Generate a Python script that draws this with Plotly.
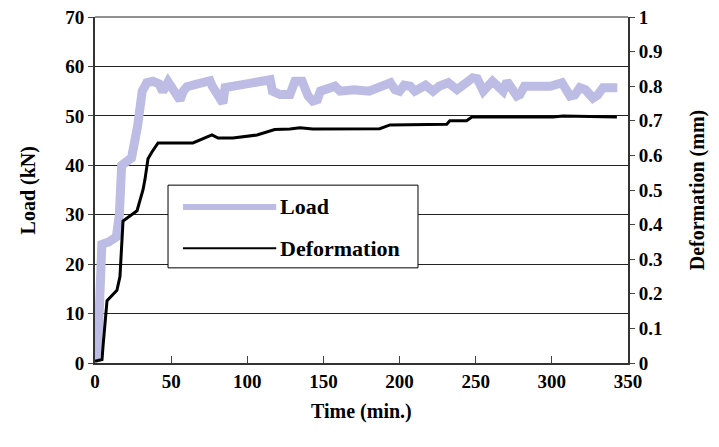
import plotly.graph_objects as go

# Load (kN) vs time (min)
load_t = [0, 1, 2.5, 3.5, 4.5, 9, 14, 16, 17.5, 24, 26, 28, 31, 34, 38, 42, 44.5, 48, 52, 55.8,
          58, 60.4, 68, 75.5, 77, 82, 84, 85.4, 100, 115, 116.5, 121.5, 128, 131.3, 136, 140,
          143, 146, 148, 152, 157.6, 161, 170, 180, 188, 194, 197, 200, 203, 207, 210, 214,
          217, 222, 226, 232, 237.7, 243, 248, 251, 255, 261, 264, 268, 270.5, 274, 277, 279,
          282, 290, 299, 306.6, 309, 312, 315, 318.4, 322, 327, 330, 333.6, 343]
load_kn = [0.5, 2, 8, 20, 24, 24.5, 25.5, 30, 40, 41.5, 44, 48, 55, 56.7, 57, 56.5, 54.9, 56.9, 55, 53.2,
           55, 55.9, 56.5, 57.1, 56, 53, 52.6, 55.7, 56.5, 57.3, 55, 54.3, 54.3, 57, 57, 54,
           53, 53.3, 55, 55.5, 56, 55, 55.3, 55, 56, 56.7, 55.3, 55, 56.2, 56, 55, 56,
           56.2, 55, 56, 56.7, 55.3, 56.5, 57.7, 57.5, 55, 57, 56, 55, 57, 55.5, 54, 54.3,
           56, 56, 56, 56.7, 55.5, 54, 54.2, 55.7, 55.3, 53.6, 54.2, 55.7, 55.7]

# Deformation (mm) vs time (min)
def_t = [0, 4.6, 5.3, 7.9, 14.4, 16.4, 18.4, 27.6, 31.5, 32.8, 34.8, 37.4, 41.4, 64.3, 76.8,
         80.8, 90.6, 106.4, 118, 128, 134.6, 143, 187, 193.7, 231, 233, 244, 247.5, 300.7,
         307.3, 342.7]
def_mm = [0.005, 0.01, 0.05, 0.18, 0.21, 0.25, 0.41, 0.44, 0.50, 0.53, 0.59, 0.61, 0.636, 0.636, 0.659,
          0.65, 0.65, 0.659, 0.675, 0.676, 0.68, 0.676, 0.677, 0.688, 0.69, 0.70, 0.70, 0.711, 0.711,
          0.714, 0.711]

x_ticks = [0, 50, 100, 150, 200, 250, 300, 350]
y1_ticks = [0, 10, 20, 30, 40, 50, 60, 70]
y2_ticks = [0, 0.1, 0.2, 0.3, 0.4, 0.5, 0.6, 0.7, 0.8, 0.9, 1]
y2_labels = ["0", "0.1", "0.2", "0.3", "0.4", "0.5", "0.6", "0.7", "0.8", "0.9", "1"]
series_names = ["Load", "Deformation"]

FONT = "Liberation Serif, Times New Roman, serif"
LOAD_COLOR = "rgb(188,188,228)"
TICK = 19
TITLE = 20

fig = go.Figure()
fig.add_trace(go.Scatter(x=load_t, y=load_kn, name=series_names[0], mode="lines",
                         line=dict(color=LOAD_COLOR, width=9), showlegend=False))
fig.add_trace(go.Scatter(x=def_t, y=def_mm, name=series_names[1], mode="lines", yaxis="y2",
                         line=dict(color="black", width=3), showlegend=False))

# top gridline of plot area (70 kN)
fig.add_shape(type="line", xref="paper", yref="paper", x0=0, x1=1, y0=1, y1=1,
              line=dict(color="#222", width=1), layer="below")

# manual legend (box, samples, labels) in paper coordinates
fig.add_shape(type="rect", xref="paper", yref="paper", x0=0.137, x1=0.606, y0=0.275, y1=0.514,
              line=dict(color="black", width=1), fillcolor="white", layer="above")
fig.add_shape(type="line", xref="paper", yref="paper", x0=0.165, x1=0.34, y0=0.451, y1=0.451,
              line=dict(color=LOAD_COLOR, width=6), layer="above")
fig.add_shape(type="line", xref="paper", yref="paper", x0=0.165, x1=0.34, y0=0.332, y1=0.332,
              line=dict(color="black", width=2), layer="above")
fig.add_annotation(xref="paper", yref="paper", x=0.343, y=0.451, text=series_names[0],
                   showarrow=False, xanchor="left", yanchor="middle",
                   font=dict(family=FONT, size=22, weight="bold", color="black"))
fig.add_annotation(xref="paper", yref="paper", x=0.343, y=0.332, text=series_names[1],
                   showarrow=False, xanchor="left", yanchor="middle",
                   font=dict(family=FONT, size=22, weight="bold", color="black"))

# axis titles
fig.add_annotation(xref="paper", yref="paper", x=0.5, y=-0.1, text="Time (min.)",
                   showarrow=False, xanchor="center", yanchor="top",
                   font=dict(family=FONT, size=TITLE, weight="bold", color="black"))
fig.add_annotation(xref="paper", yref="paper", x=-0.125, y=0.5, text="Load (kN)", textangle=-90,
                   showarrow=False, xanchor="center", yanchor="middle",
                   font=dict(family=FONT, size=TITLE, weight="bold", color="black"))
fig.add_annotation(xref="paper", yref="paper", x=1.13, y=0.5, text="Deformation (mm)", textangle=-90,
                   showarrow=False, xanchor="center", yanchor="middle",
                   font=dict(family=FONT, size=TITLE, weight="bold", color="black"))

fig.update_layout(
    width=719, height=447,
    margin=dict(l=95, r=91, t=17, b=84),
    paper_bgcolor="white", plot_bgcolor="white",
    font=dict(family=FONT, size=TICK, color="black", weight="bold"),
    showlegend=False,
    xaxis=dict(range=[0, 350], tickvals=x_ticks, ticks="inside", ticklen=7, automargin=False,
               showline=True, linecolor="#333", linewidth=2, showgrid=False, zeroline=False,
               tickfont=dict(family=FONT, size=TICK, weight="bold")),
    yaxis=dict(range=[0, 70], tickvals=y1_ticks, ticks="outside", ticklen=5, automargin=False,
               showline=True, linecolor="#333", linewidth=2, showgrid=True,
               gridcolor="#222", gridwidth=1, zeroline=False,
               tickfont=dict(family=FONT, size=TICK, weight="bold")),
    yaxis2=dict(range=[0, 1], tickvals=y2_ticks, ticktext=y2_labels, overlaying="y", side="right",
                ticks="outside", ticklen=5, showline=True, linecolor="#333", linewidth=2,
                showgrid=False, zeroline=False, automargin=False,
                tickfont=dict(family=FONT, size=TICK, weight="bold")),
)

fig.write_html("out.html", config={"displayModeBar": False},
               post_script="document.body.style.margin='0px';")
